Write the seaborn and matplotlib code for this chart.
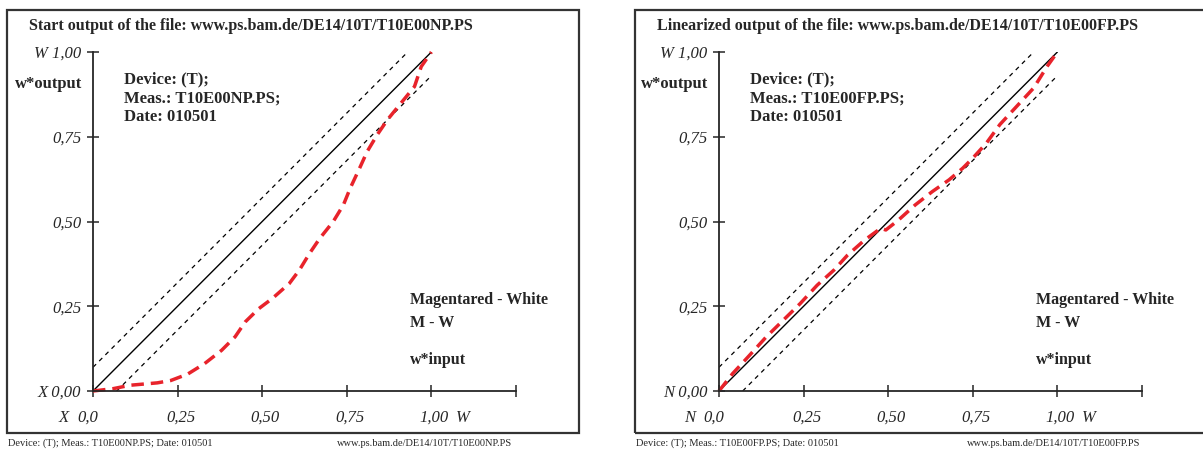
import numpy as np
import matplotlib
matplotlib.use("Agg")
import matplotlib.pyplot as plt
from matplotlib.patches import Rectangle
from matplotlib.transforms import offset_copy
import seaborn as sns

# measured curves (w*input -> w*output)
np_x = [0.0, 0.06, 0.11, 0.19, 0.23, 0.28, 0.33, 0.38, 0.42, 0.45, 0.49, 0.53,
        0.58, 0.61, 0.64, 0.67, 0.71, 0.74, 0.76, 0.79, 0.81, 0.84, 0.87, 0.91,
        0.95, 0.97, 1.0]
np_y = [0.0, 0.007, 0.017, 0.024, 0.031, 0.05, 0.081, 0.12, 0.16, 0.204, 0.243,
        0.273, 0.317, 0.357, 0.406, 0.45, 0.5, 0.549, 0.598, 0.662, 0.706, 0.756,
        0.8, 0.849, 0.898, 0.957, 1.0]
fp_x = [0.0, 0.04, 0.09, 0.14, 0.19, 0.24, 0.29, 0.34, 0.38, 0.43, 0.478, 0.493,
        0.53, 0.58, 0.63, 0.68, 0.72, 0.75, 0.79, 0.83, 0.88, 0.93, 0.97, 1.0]
fp_y = [0.0, 0.051, 0.105, 0.16, 0.209, 0.258, 0.312, 0.357, 0.401, 0.445, 0.48,
        0.475, 0.504, 0.549, 0.588, 0.623, 0.657, 0.687, 0.731, 0.786, 0.84, 0.894,
        0.958, 1.0]

# reference line and tolerance band
ref_x = [0.0, 1.0]
ref_y = [0.0, 1.0]
upper_x = [0.0, 0.93]
upper_y = [0.07, 1.0]
lower_x = [0.07, 1.0]
lower_y = [0.0, 0.93]

xticks = [0.0, 0.25, 0.5, 0.75, 1.0, 1.25]
xtick_labels = ["0,0", "0,25", "0,50", "0,75", "1,00", ""]
yticks = [0.0, 0.25, 0.5, 0.75, 1.0]

panels = [
    dict(title="Start output of the file: www.ps.bam.de/DE14/10T/T10E00NP.PS",
         meas="T10E00NP.PS", start="X", x=np_x, y=np_y, left=7, axis=93),
    dict(title="Linearized output of the file: www.ps.bam.de/DE14/10T/T10E00FP.PS",
         meas="T10E00FP.PS", start="N", x=fp_x, y=fp_y, left=635, axis=719),
]

sns.set_theme(style="white")
plt.rcParams["font.family"] = ["Liberation Serif", "DejaVu Serif"]

W, H = 1203, 451
fig = plt.figure(figsize=(W / 100, H / 100), dpi=100)
red = "#e8232b"
ink = "#262626"

for p in panels:
    # outer frame
    fig.add_artist(Rectangle((p["left"] / W, 1 - 433 / H), 572 / W, 423 / H,
                             transform=fig.transFigure, fill=False,
                             edgecolor="#333333", linewidth=1.6))
    fig.text((p["left"] + 22) / W, 1 - 26 / H, p["title"], fontsize=11.5,
             fontweight="bold", va="center", ha="left", color=ink)
    fig.text((p["left"] + 1) / W, 1 - 443 / H,
             "Device: (T); Meas.: %s; Date: 010501" % p["meas"],
             fontsize=7.5, va="center", ha="left", color=ink)
    fig.text((p["left"] + 505) / W, 1 - 443 / H,
             "www.ps.bam.de/DE14/10T/%s" % p["meas"],
             fontsize=7.5, va="center", ha="right", color=ink)

    ax = fig.add_axes([p["axis"] / W, 1 - 391 / H, 423 / W, 339 / H])
    ax.set_xlim(0, 1.25)
    ax.set_ylim(0, 1)
    ax.patch.set_alpha(0)

    sns.lineplot(x=upper_x, y=upper_y, ax=ax, color="black", linewidth=0.9,
                 linestyle=(0, (3.5, 3.5)))
    sns.lineplot(x=lower_x, y=lower_y, ax=ax, color="black", linewidth=0.9,
                 linestyle=(0, (3.5, 3.5)))
    sns.lineplot(x=ref_x, y=ref_y, ax=ax, color="black", linewidth=1.0)
    sns.lineplot(x=p["x"], y=p["y"], ax=ax, color=red, linewidth=2.5,
                 linestyle=(0, (3.6, 2.0)), clip_on=False)

    for s in ["top", "right"]:
        ax.spines[s].set_visible(False)
    for s in ["left", "bottom"]:
        ax.spines[s].set_color(ink)
        ax.spines[s].set_linewidth(1.3)

    ax.set_xticks(xticks)
    ax.set_xticklabels([])
    ax.set_yticks(yticks)
    ax.set_yticklabels([p["start"] + " 0,00", "0,25", "0,50", "0,75", "W 1,00"],
                       fontsize=12, fontstyle="italic")
    ax.tick_params(axis="x", bottom=True, direction="inout", length=9,
                   width=1.1, colors=ink)
    ax.tick_params(axis="y", left=True, direction="inout", length=9,
                   width=1.1, pad=4, colors=ink)

    # x tick labels sit slightly right of their ticks, the first one left
    for val, lab in zip(xticks, xtick_labels):
        dx = -5 if val == 0 else 3
        tr = offset_copy(ax.get_xaxis_transform(), fig=fig, x=dx, y=0,
                         units="dots")
        ax.text(val, -0.08, lab, transform=tr, fontsize=12, fontstyle="italic",
                ha="center", va="center", color=ink)
    ax.text(-0.069, -0.08, p["start"], transform=ax.transAxes, fontsize=12,
            fontstyle="italic", ha="center", va="center", color=ink)
    ax.text(0.875, -0.08, "W", transform=ax.transAxes, fontsize=12,
            fontstyle="italic", ha="center", va="center", color=ink)

    ax.text(-0.026, 0.906, "w*output", transform=ax.transAxes, fontsize=12,
            fontweight="bold", ha="right", va="center", color=ink)
    for i, line in enumerate(["Device: (T);", "Meas.: %s;" % p["meas"],
                              "Date: 010501"]):
        ax.text(0.073, 0.920 - 0.056 * i, line, transform=ax.transAxes,
                fontsize=12, fontweight="bold", ha="left", va="center",
                color=ink)
    for yy, line in zip([0.268, 0.201, 0.091],
                        ["Magentared - White", "M - W", "w*input"]):
        ax.text(0.749, yy, line, transform=ax.transAxes, fontsize=11.5,
                fontweight="bold", ha="left", va="center", color=ink)

fig.savefig("out.png", dpi=100)
